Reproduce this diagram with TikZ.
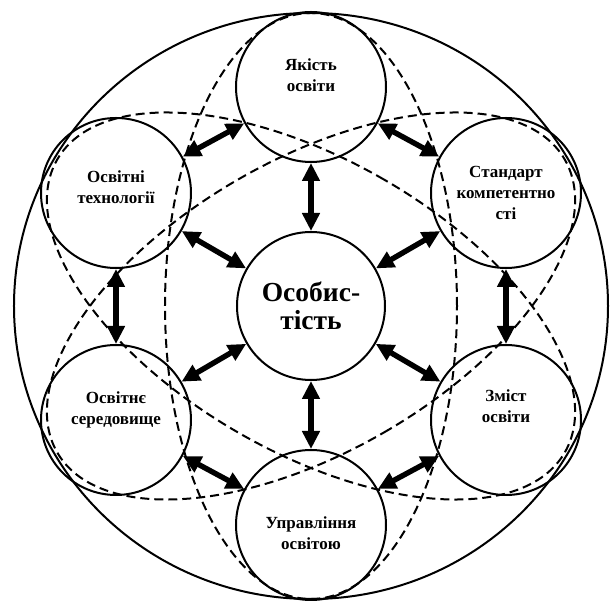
\documentclass[tikz,border=0pt]{standalone}
\usepackage{fontspec}
\setmainfont{Liberation Serif}
\usetikzlibrary{arrows.meta}

\begin{document}
\begin{tikzpicture}[x=1pt, y=1pt,
  unit/.style={draw, circle, line width=2pt, minimum size=150pt, inner sep=0pt,
               align=center, font=\bfseries\fontsize{17}{21}\selectfont},
  core/.style={draw, circle, line width=2pt, minimum size=148pt, inner sep=0pt,
               align=center, font=\bfseries\fontsize{27.5}{28}\selectfont},
  theight/.style={text height=#1, text depth=0pt},
  link/.style={{Triangle[length=18pt,width=17pt]}-{Triangle[length=18pt,width=17pt]}, line width=5.4pt},
  orbit/.style={dash pattern=on 9pt off 5pt, line width=2pt},
]
  \useasboundingbox (-311,-295) rectangle (299,306);

  % outer ring and dashed orbits
  \draw[line width=2pt] (0,0) ellipse [x radius=297pt, y radius=293pt];
  \foreach \a in {0,60,-60}
    \draw[orbit, rotate=\a] (0,0) ellipse [x radius=146pt, y radius=293pt];

  \node[core] (me) at (0,0) {Особис-\\тість};
  \node[unit, theight=9pt] (qual) at (0,219) {Якість\\освіти};
  \node[unit] (std) at (195,113) {Стандарт\\компетентно\\сті};
  \node[unit, theight=5pt] (cont) at (195,-114) {Зміст\\освіти};
  \node[unit, theight=49pt] (mgmt) at (0,-219) {Управління\\освітою};
  \node[unit, theight=9pt] (env) at (-195,-114) {Освітнє\\середовище};
  \node[unit, theight=21pt] (tech) at (-195,113) {Освітні\\технології};

  \foreach \n in {qual,std,cont,mgmt,env,tech}
    \draw[link] (me) -- (\n);

  \draw[link] (qual) -- (std);
  \draw[link] (std) -- (cont);
  \draw[link] (cont) -- (mgmt);
  \draw[link] (mgmt) -- (env);
  \draw[link] (env) -- (tech);
  \draw[link] (tech) -- (qual);
\end{tikzpicture}
\end{document}
